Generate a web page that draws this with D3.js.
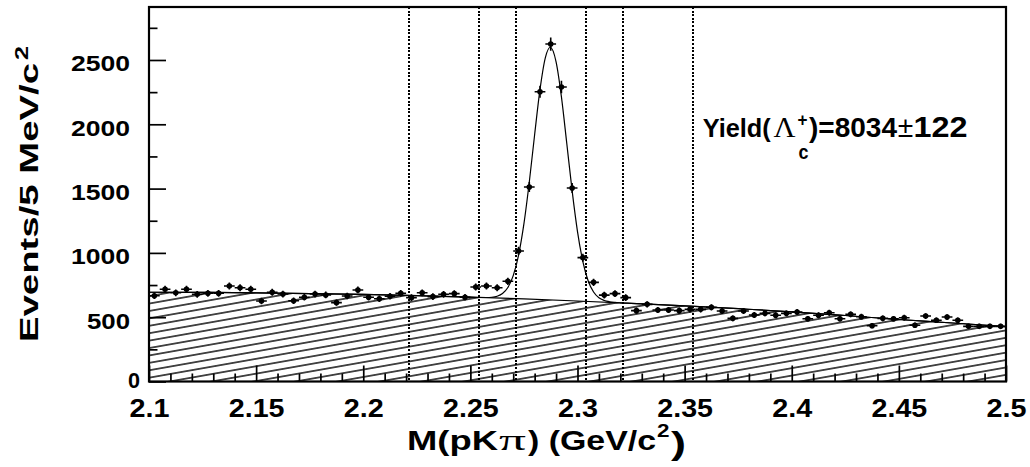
<!DOCTYPE html>
<html><head><meta charset="utf-8">
<script src="https://cdn.jsdelivr.net/npm/d3@7"></script>
<style>html,body{margin:0;padding:0;background:#fff;} svg{display:block;}</style>
</head><body>
<svg id="chart" width="1030" height="467"></svg>
<script>
// ---------- data ----------
const binCenters = [
 2.1025,2.1075,2.1125,2.1175,2.1225,2.1275,2.1325,2.1375,2.1425,2.1475,
 2.1525,2.1575,2.1625,2.1675,2.1725,2.1775,2.1825,2.1875,2.1925,2.1975,
 2.2025,2.2075,2.2125,2.2175,2.2225,2.2275,2.2325,2.2375,2.2425,2.2475,
 2.2525,2.2575,2.2625,2.2675,2.2725,2.2775,2.2825,2.2875,2.2925,2.2975,
 2.3025,2.3075,2.3125,2.3175,2.3225,2.3275,2.3325,2.3375,2.3425,2.3475,
 2.3525,2.3575,2.3625,2.3675,2.3725,2.3775,2.3825,2.3875,2.3925,2.3975,
 2.4025,2.4075,2.4125,2.4175,2.4225,2.4275,2.4325,2.4375,2.4425,2.4475,
 2.4525,2.4575,2.4625,2.4675,2.4725,2.4775,2.4825,2.4875,2.4925,2.4975];
const counts = [
 667,717,690,717,678,686,686,743,729,717,
 626,694,680,628,655,680,673,613,665,712,
 655,644,663,686,652,690,660,678,683,655,
 735,743,729,779,1015,1512,2253,2624,2290,1505,
 963,771,672,683,652,551,600,556,556,551,
 561,561,577,548,491,548,517,530,515,530,
 540,488,515,535,488,522,504,434,491,488,
 496,437,509,476,501,476,429,429,429,429];
const binWidth = 0.005;

// background fit curve
const bkgMass  = [2.100,2.125,2.150,2.175,2.200,2.225,2.250,2.275,2.300,2.325,2.350,2.375,2.400,2.425,2.450,2.475,2.500];
const bkgValue = [694,693,689,684,677,667,656,642,626,608,588,566,542,513,482,455,426];

// total fit curve
const fitMass  = [2.100,2.125,2.150,2.175,2.200,2.225,2.250,
 2.2550,2.2575,2.2600,2.2625,2.2650,2.2675,2.2700,2.2725,2.2750,2.2775,2.2800,2.2825,2.2850,
 2.2873,2.2900,2.2925,2.2950,2.2975,2.3000,2.3025,2.3050,2.3075,2.3100,2.3125,2.3150,2.3175,2.3200,
 2.325,2.350,2.375,2.400,2.425,2.450,2.475,2.500];
const fitValue = [694,693,689,684,677,667,656,
 653,653,655,663,684,731,823,983,1227,1551,1921,2271,2519,
 2599,2486,2213,1851,1482,1166,933,782,696,651,630,620,615,612,
 608,588,566,542,513,482,455,426];

// signal / sideband boundaries
const cutLines = [2.2215, 2.2540, 2.2713, 2.3040, 2.3211, 2.3540];

const xMajor = [2.1,2.15,2.2,2.25,2.3,2.35,2.4,2.45,2.5];
const xTickLabels = ["2.1","2.15","2.2","2.25","2.3","2.35","2.4","2.45","2.5"];
const xMinor = [2.11,2.12,2.13,2.14,2.16,2.17,2.18,2.19,2.21,2.22,2.23,2.24,2.26,2.27,2.28,2.29,
 2.31,2.32,2.33,2.34,2.36,2.37,2.38,2.39,2.41,2.42,2.43,2.44,2.46,2.47,2.48,2.49];
const yMajor = [0,500,1000,1500,2000,2500];
const yTickLabels = ["0","500","1000","1500","2000","2500"];
const yMinor = [250,750,1250,1750,2250,2750];

// ---------- drawing ----------
const FONT = "'Liberation Sans', Arial, Helvetica, sans-serif";
const SYM = "'Liberation Serif', 'DejaVu Serif', serif";
const L = 149, R = 1006, T = 7, B = 381.5;
const x = d3.scaleLinear().domain([2.1, 2.5]).range([L, R]);
const y = d3.scaleLinear().domain([0, 2912]).range([B, T]);
const svg = d3.select("#chart");
svg.append("rect").attr("width",1030).attr("height",467).attr("fill","#fff");

const defs = svg.append("defs");
defs.append("clipPath").attr("id","plotclip").append("rect")
  .attr("x",L).attr("y",T).attr("width",R-L).attr("height",B-T);
const pat = defs.append("pattern").attr("id","hatch")
  .attr("patternUnits","userSpaceOnUse").attr("width",40).attr("height",7.3)
  .attr("patternTransform","rotate(-10)");
pat.append("line").attr("x1",-2).attr("x2",42).attr("y1",3.65).attr("y2",3.65)
  .attr("stroke","#000").attr("stroke-width",1.25);

const plot = svg.append("g").attr("clip-path","url(#plotclip)");

// hatched background
const bkgPts = bkgMass.map((m,i)=>[m,bkgValue[i]]);
plot.append("path").datum(bkgPts)
  .attr("d", d3.area().x(d=>x(d[0])).y0(y(0)).y1(d=>y(d[1])).curve(d3.curveMonotoneX))
  .attr("fill","url(#hatch)");
plot.append("path").datum(bkgPts)
  .attr("d", d3.line().x(d=>x(d[0])).y(d=>y(d[1])).curve(d3.curveMonotoneX))
  .attr("fill","none").attr("stroke","#000").attr("stroke-width",1.2);

// dotted cut lines
plot.selectAll("line.cut").data(cutLines).join("line").attr("class","cut")
  .attr("x1",d=>Math.round(x(d))).attr("x2",d=>Math.round(x(d))).attr("y1",T).attr("y2",B)
  .attr("stroke","#000").attr("stroke-width",2).attr("stroke-dasharray","2,1.6")
  .attr("shape-rendering","crispEdges");

// fit curve
const fitPts = fitMass.map((m,i)=>[m,fitValue[i]]);
plot.append("path").datum(fitPts)
  .attr("d", d3.line().x(d=>x(d[0])).y(d=>y(d[1])).curve(d3.curveMonotoneX))
  .attr("fill","none").attr("stroke","#000").attr("stroke-width",1.2);

// data points with error bars
const pts = plot.append("g");
binCenters.forEach((c,i)=>{
  const v = counts[i], e = Math.sqrt(v);
  pts.append("line").attr("x1",x(c-binWidth/2)).attr("x2",x(c+binWidth/2))
    .attr("y1",y(v)).attr("y2",y(v)).attr("stroke","#000").attr("stroke-width",1.6);
  pts.append("line").attr("x1",x(c)).attr("x2",x(c))
    .attr("y1",y(v-e)).attr("y2",y(v+e)).attr("stroke","#000").attr("stroke-width",1.6);
  pts.append("circle").attr("cx",x(c)).attr("cy",y(v)).attr("r",2.8).attr("fill","#000");
});

// axes
function styleAxis(g){ g.select(".domain").remove(); g.selectAll(".tick line").attr("stroke","#000").attr("stroke-width",1.7); }
const gxMinor = svg.append("g").attr("transform",`translate(0,${B})`)
  .call(d3.axisBottom(x).tickValues(xMinor).tickSize(-8).tickFormat(""));
styleAxis(gxMinor);
const gx = svg.append("g").attr("transform",`translate(0,${B})`)
  .call(d3.axisBottom(x).tickValues(xMajor).tickSize(-16).tickFormat((d,i)=>xTickLabels[i]));
styleAxis(gx);
gx.selectAll(".tick text").attr("y",35.2).attr("dy",0)
  .attr("font-family",FONT).attr("font-weight","bold").attr("font-size",25.5).attr("fill","#000")
  .attr("textLength",(d,i)=>xTickLabels[i].length===4?55.7:40).attr("lengthAdjust","spacingAndGlyphs");

const gyMinor = svg.append("g").attr("transform",`translate(${L},0)`)
  .call(d3.axisLeft(y).tickValues(yMinor).tickSize(-8.5).tickFormat(""));
styleAxis(gyMinor);
const gy = svg.append("g").attr("transform",`translate(${L},0)`)
  .call(d3.axisLeft(y).tickValues(yMajor).tickSize(-17).tickFormat((d,i)=>yTickLabels[i]));
styleAxis(gy);
gy.selectAll(".tick text").attr("x",-19).attr("dy",11)
  .attr("font-family",FONT).attr("font-weight","bold").attr("font-size",22.5).attr("fill","#000")
  .attr("textLength",(d,i)=>yTickLabels[i].length===4?59:(yTickLabels[i].length===3?43:12))
  .attr("lengthAdjust","spacingAndGlyphs");
gy.selectAll(".tick text").filter(d=>d===0).attr("x",-9).attr("dy",6);

// frame
svg.append("rect").attr("x",L).attr("y",T).attr("width",R-L).attr("height",B-T)
  .attr("fill","none").attr("stroke","#000").attr("stroke-width",2.2);

// composite text: one <text> with positioned tspans
function richText(parts, opts={}){
  const t = svg.append("text").attr("fill","#000");
  if(opts.transform) t.attr("transform",opts.transform);
  parts.forEach(p=>{
    const s = t.append("tspan").attr("x",p.x).attr("y",p.y).text(p.s)
      .attr("font-family",p.family||FONT).attr("font-weight",p.weight||"bold")
      .attr("font-size",p.size);
    if(p.len) s.attr("textLength",p.len).attr("lengthAdjust","spacingAndGlyphs");
  });
  return t;
}

// x title: M(pKπ) (GeV/c²)
richText([
  {s:"M(pK", x:407, y:450, size:28, len:91},
  {s:"\u03C0", x:499, y:450, size:30, len:27, family:SYM, weight:"normal"},
  {s:") (GeV/c", x:528, y:450, size:28, len:128},
  {s:"2", x:657, y:437, size:19, len:12.5},
  {s:")", x:671, y:454, size:32, len:15}
]);

// y title: Events/5 MeV/c²
richText([
  {s:"Events/5 MeV/c", x:0, y:0, size:25, len:279},
  {s:"2", x:282, y:-10, size:18, len:14}
], {transform:"translate(37.5,342) rotate(-90)"});

// yield label
richText([
  {s:"Yield(", x:702.7, y:137.3, size:25.8, len:68},
  {s:"\u039B", x:773.5, y:137.3, size:30, len:22, family:SYM, weight:"normal"},
  {s:"+", x:797.5, y:126, size:19, len:10},
  {s:"c", x:798.5, y:159, size:20, len:10},
  {s:")=8034", x:809, y:137.3, size:28, len:88},
  {s:"\u00B1", x:897.8, y:137.3, size:29, len:15.5, weight:"normal"},
  {s:"122", x:913.5, y:137.3, size:29, len:54}
]);
</script>
</body></html>
